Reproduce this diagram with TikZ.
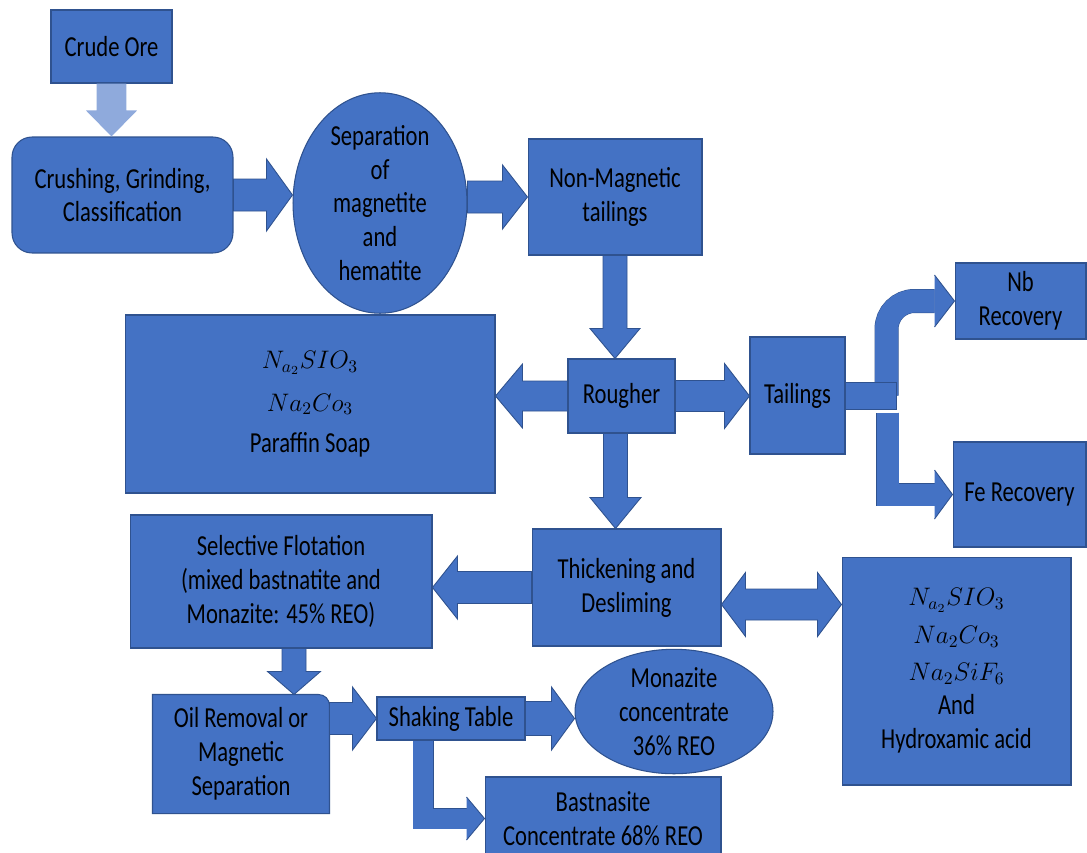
\documentclass[tikz,border=0pt]{standalone}
\usepackage{fontspec}
\setmainfont{Carlito}[FakeStretch=0.78]
\usetikzlibrary{calc,shapes.geometric,backgrounds}

\definecolor{boxblue}{HTML}{4472C4}
\definecolor{boxedge}{HTML}{2F528F}
\definecolor{paleblue}{HTML}{8FAADC}

\tikzset{
  flow/.style={draw=boxedge, line width=0.6pt, fill=boxblue, align=center,
    inner sep=0pt, text=black, font=\fontsize{16.5pt}{19.3pt}\selectfont},
  stepbox/.style={flow, rectangle},
  oval/.style={flow, ellipse},
  flowarrow/.style={draw=boxedge, line width=0.5pt, fill=boxblue},
  bandedge/.style={draw=boxedge, line join=miter},
  bandfill/.style={draw=boxblue, line join=miter},
}

% chemical formula line, set in math italic
\newcommand{\chemline}[1]{{\fontsize{14.5pt}{19.3pt}\selectfont$#1$}}

% straight block arrow: [style]{from}{to}{shaft half width}{head half width}{head length}
\newcommand{\blockarrow}[6][]{%
  \coordinate (ba-h) at ($(#3)!#6!(#2)$);
  \filldraw[flowarrow,#1] ($(#2)!#4!90:(#3)$) -- ($(ba-h)!#4!90:(#3)$)
    -- ($(ba-h)!#5!90:(#3)$) -- (#3) -- ($(ba-h)!#5!-90:(#3)$)
    -- ($(ba-h)!#4!-90:(#3)$) -- ($(#2)!#4!-90:(#3)$) -- cycle;}

% block arrow with a head at both ends
\newcommand{\dblockarrow}[6][]{%
  \coordinate (da-h1) at ($(#3)!#6!(#2)$);
  \coordinate (da-h2) at ($(#2)!#6!(#3)$);
  \filldraw[flowarrow,#1] (#2) -- ($(da-h2)!#5!90:(#3)$) -- ($(da-h2)!#4!90:(#3)$)
    -- ($(da-h1)!#4!90:(#3)$) -- ($(da-h1)!#5!90:(#3)$) -- (#3)
    -- ($(da-h1)!#5!-90:(#3)$) -- ($(da-h1)!#4!-90:(#3)$)
    -- ($(da-h2)!#4!-90:(#3)$) -- ($(da-h2)!#5!-90:(#3)$) -- cycle;}

% triangular head for the bent connectors: {base centre}{tip}{half width}
\newcommand{\blockhead}[3]{%
  \fill[boxblue] ($(#1)!#3!90:(#2)$) -- (#2) -- ($(#1)!#3!-90:(#2)$) -- cycle;
  \draw[boxedge, line width=0.5pt] ($(#1)!#3!90:(#2)$) -- (#2) -- ($(#1)!#3!-90:(#2)$);}

\begin{document}
\begin{tikzpicture}[x=0.02cm, y=-0.02cm]
\useasboundingbox (0,0) rectangle (1087,852);
\begin{scope}[on background layer]
  \fill[white] (0,0) rectangle (1087,852);
\end{scope}

% ---- process steps ----
\node[stepbox, minimum width=2.42cm, minimum height=1.46cm] (crude) at (111.5,46.5) {Crude Ore};
\node[stepbox, rounded corners=0.4cm, minimum width=4.42cm, minimum height=2.32cm] (crush) at (122.5,195) {Crushing, Grinding,\\Classification};
\node[oval, minimum width=3.48cm, minimum height=4.36cm] (sep) at (380,203) {Separation\\of\\magnetite\\and\\hematite};
\node[stepbox, minimum width=3.48cm, minimum height=2.32cm] (nonmag) at (615,197) {Non-Magnetic\\tailings};
\node[stepbox, minimum width=2.14cm, minimum height=1.48cm] (rougher) at (621.5,396) {Rougher};
\node[stepbox, minimum width=7.4cm, minimum height=3.56cm] (chemL) at (310,404) {\chemline{N_{a_2}SIO_3}\\[5pt]\chemline{Na_2Co_3}\\[4pt]Paraffin Soap};
\node[stepbox, minimum width=1.9cm, minimum height=2.34cm] (tail) at (797.5,395.5) {Tailings};
\node[stepbox, minimum width=2.62cm, minimum height=1.52cm] (nb) at (1020.5,301) {Nb\\Recovery};
\node[stepbox, minimum width=2.66cm, minimum height=2.1cm] (fe) at (1019.5,494.5) {Fe Recovery};
\node[stepbox, minimum width=3.78cm, minimum height=2.34cm] (thick) at (626.5,587.5) {Thickening and\\Desliming};
\node[stepbox, minimum width=6.04cm, minimum height=2.66cm] (flot) at (281,581.5) {Selective Flotation\\(mixed bastnatite and\\Monazite: 45\% REO)};
\node[stepbox, minimum width=4.58cm, minimum height=4.56cm] (chemR) at (956.5,671) {\chemline{N_{a_2}SIO_3}\\[2pt]\chemline{Na_2Co_3}\\[2pt]\chemline{Na_2SiF_6}\\And\\Hydroxamic acid};
\node[stepbox, draw=none, fill=none, minimum width=3.52cm, minimum height=2.36cm] (oil) at (241,754) {Oil Removal or\\Magnetic\\Separation};
\begin{scope}[on background layer]
  \filldraw[draw=boxedge, line width=0.6pt, fill=boxblue] (oil.south west) -- (oil.north west)
    [rounded corners=0.22cm] -- (oil.north east) [sharp corners] -- (oil.south east) -- cycle;
\end{scope}
\node[stepbox, minimum width=2.96cm, minimum height=0.86cm] (shake) at (451,718.5) {Shaking Table};
\node[oval, minimum width=3.96cm, minimum height=2.26cm] (mona) at (674,711.5) {Monazite\\concentrate\\36\% REO};
\node[stepbox, minimum width=4.72cm, minimum height=1.66cm] (bast) at (603,818.5) {Bastnasite\\Concentrate 68\% REO};

% ---- straight connectors ----
\coordinate (c1a) at (crude.south);
\coordinate (c1b) at (crude.south |- crush.north);
\blockarrow[draw=none, fill=paleblue]{c1a}{c1b}{0.3cm}{0.51cm}{0.52cm}

\coordinate (c2b) at (crush.east -| sep.west);
\blockarrow{crush.east}{c2b}{0.32cm}{0.72cm}{0.52cm}

\coordinate (c3a) at (nonmag.west -| sep.east);
\blockarrow{c3a}{nonmag.west}{0.32cm}{0.64cm}{0.5cm}

\coordinate (c4a) at (nonmag.south);
\coordinate (c4b) at (nonmag.south |- rougher.north);
\blockarrow{c4a}{c4b}{0.24cm}{0.5cm}{0.6cm}

\coordinate (c5b) at (rougher.west -| chemL.east);
\blockarrow{rougher.west}{c5b}{0.3cm}{0.64cm}{0.54cm}

\coordinate (c6b) at (rougher.east -| tail.west);
\blockarrow{rougher.east}{c6b}{0.31cm}{0.65cm}{0.5cm}

\coordinate (c7a) at ($(rougher.south)+(-6,0)$);
\coordinate (c7b) at (c7a |- thick.north);
\blockarrow{c7a}{c7b}{0.24cm}{0.51cm}{0.62cm}

\coordinate (c8b) at (thick.west -| flot.east);
\blockarrow{thick.west}{c8b}{0.32cm}{0.63cm}{0.5cm}

\coordinate (c9a) at ($(thick.east)+(0,17)$);
\coordinate (c9b) at (c9a -| chemR.west);
\dblockarrow{c9a}{c9b}{0.31cm}{0.64cm}{0.48cm}

\coordinate (c10a) at ($(flot.south)+(13,0)$);
\coordinate (c10b) at (c10a |- oil.north);
\blockarrow{c10a}{c10b}{0.24cm}{0.53cm}{0.46cm}

\coordinate (c11a) at (shake.west -| oil.east);
\blockarrow{c11a}{shake.west}{0.32cm}{0.63cm}{0.48cm}

\coordinate (c12b) at (shake.east -| mona.west);
\blockarrow{shake.east}{c12b}{0.34cm}{0.63cm}{0.46cm}

% ---- bent connectors ----
% Tailings to Nb recovery
\coordinate (nbup) at ($(tail.east)+(41,0)$);
\coordinate (nbbase) at ($(nb.west)+(-20,0)$);
\draw[bandedge, line width=0.48cm, rounded corners=0.56cm] (nbup) |- (nbbase);
\draw[bandfill, line width=0.46cm, rounded corners=0.56cm] (nbup) |- (nbbase);
\blockhead{nbbase}{nb.west}{0.52cm}

% Tailings to Fe recovery
\coordinate (fedown) at ($(tail.east)+(42,17)$);
\coordinate (febase) at ($(fe.west)+(-18,0)$);
\draw[bandedge, line width=0.46cm] (fedown) |- (febase);
\draw[bandfill, line width=0.44cm] (fedown) |- (febase);
\blockhead{febase}{fe.west}{0.49cm}

% stub leaving the Tailings box
\coordinate (stubA) at ($(tail.east)+(0,-13.5)$);
\coordinate (stubB) at ($(tail.east)+(51,13.5)$);
\filldraw[flowarrow] (stubA) rectangle (stubB);

% Shaking table to Bastnasite concentrate
\coordinate (bdown) at ($(shake.south west)+(47,0)$);
\coordinate (bbase) at ($(bast.west)+(-18,0)$);
\draw[bandedge, line width=0.42cm] (bdown) |- (bbase);
\draw[bandfill, line width=0.4cm] (bdown) |- (bbase);
\blockhead{bbase}{bast.west}{0.43cm}

\end{tikzpicture}
\end{document}
